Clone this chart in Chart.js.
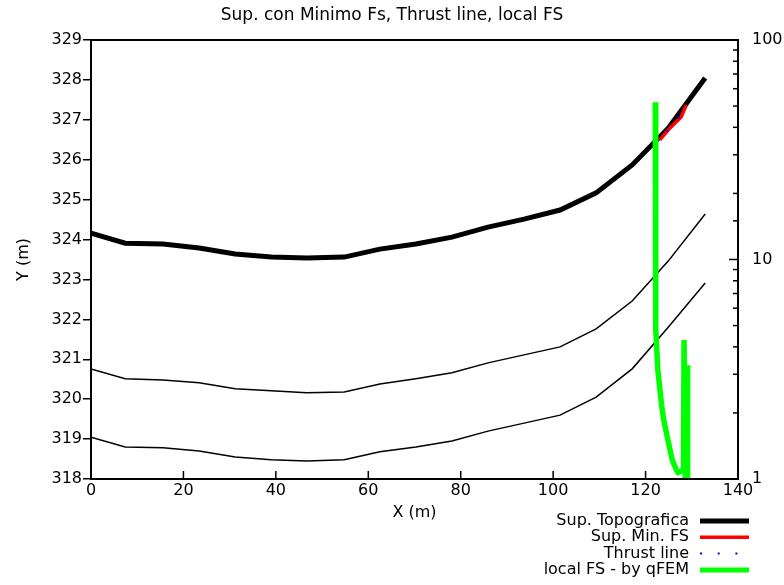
<!DOCTYPE html>
<html>
<head>
<meta charset="utf-8">
<script src="https://cdn.jsdelivr.net/npm/chart.js@4.4.1/dist/chart.umd.min.js"></script>
<style>
  html, body { margin: 0; padding: 0; background: #fff; }
  #wrap { width: 784px; height: 585px; }
</style>
</head>
<body>
<div id="wrap"><canvas id="slope" width="784" height="585"></canvas></div>
<script>
// section stations (m)
const stationX = [0, 7.4, 15.6, 23.4, 31.2, 39, 46.7, 54.8, 62.5, 70.3, 78.1, 85.9, 93.7, 101.5, 109.3, 117.1, 124.9, 132.9];
const topoY   = [324.16, 323.91, 323.89, 323.79, 323.64, 323.56, 323.54, 323.56, 323.76, 323.89, 324.06, 324.31, 324.51, 324.74, 325.17, 325.87, 326.79, 328.05];
const layer1Y = [320.76, 320.51, 320.48, 320.41, 320.26, 320.21, 320.16, 320.18, 320.38, 320.51, 320.66, 320.91, 321.11, 321.31, 321.76, 322.46, 323.46, 324.64];
const layer2Y = [319.05, 318.80, 318.78, 318.70, 318.55, 318.48, 318.45, 318.48, 318.68, 318.80, 318.95, 319.20, 319.40, 319.60, 320.05, 320.76, 321.80, 322.91];

// minimum FS surface
const minFsX = [123.1, 124.9, 127.7, 128.8];
const minFsY = [326.50, 326.75, 327.07, 327.37];

// thrust line
const thrustX = [122.05, 124.85, 127.3, 128.3];
const thrustY = [326.37, 326.73, 327.06, 327.22];

// local FS (right axis, log)
const localX  = [122.1, 122.2, 122.66, 123.46, 123.93, 124.82, 125.77, 126.66, 127.03, 128.2, 128.33, 128.6, 129.0, 129.1];
const localFS = [52, 4.8, 3.14, 2.17, 1.86, 1.51, 1.22, 1.10, 1.07, 1.1, 4.3, 0.9, 3.3, 0.9];

const xTicks = [0, 20, 40, 60, 80, 100, 120, 140];
const yLabels = ["Y (m)"];
const FONT = "DejaVu Sans";

const pts = (xs, ys) => xs.map((x, i) => ({ x, y: ys[i] }));

const framePlugin = {
  id: "frame",
  afterDatasetsDraw(chart) {
    const { ctx, chartArea: a, scales } = chart;
    ctx.save();
    ctx.strokeStyle = "#000";
    ctx.lineWidth = 1.5;
    // x ticks pointing inward
    scales.x.ticks.forEach(t => {
      const px = scales.x.getPixelForValue(t.value);
      ctx.beginPath(); ctx.moveTo(px, a.bottom); ctx.lineTo(px, a.bottom - 8); ctx.stroke();
    });
    // log ticks on the right, inward
    scales.y2.ticks.forEach(t => {
      const py = scales.y2.getPixelForValue(t.value);
      const major = Math.abs(Math.log10(t.value) - Math.round(Math.log10(t.value))) < 1e-6;
      ctx.beginPath(); ctx.moveTo(a.right, py); ctx.lineTo(a.right - (major ? 9 : 5), py); ctx.stroke();
    });
    ctx.lineWidth = 2;
    ctx.strokeRect(a.left, a.top, a.right - a.left, a.bottom - a.top);
    ctx.restore();
  },
  afterDraw(chart) {
    const ctx = chart.ctx;
    ctx.save();
    ctx.font = "16px '" + FONT + "'";
    ctx.textAlign = "right";
    ctx.textBaseline = "middle";
    chart.data.datasets.filter(d => d.inLegend).forEach((d, i) => {
      const y = 521 + i * 16.3;
      ctx.fillStyle = "#000";
      ctx.fillText(d.label, 689, y);
      ctx.strokeStyle = d.borderColor;
      ctx.lineWidth = d.legendWidth;
      ctx.setLineDash(d.borderDash || []);
      ctx.beginPath(); ctx.moveTo(700, y); ctx.lineTo(749, y); ctx.stroke();
    });
    ctx.restore();
  }
};

new Chart(document.getElementById("slope"), {
  type: "line",
  data: {
    datasets: [
      { label: "Sup. Topografica", inLegend: true, legendWidth: 5, data: pts(stationX, topoY),
        borderColor: "#000000", borderWidth: 5, order: 4 },
      { label: "Sup. Min. FS", inLegend: true, legendWidth: 3.5, data: pts(minFsX, minFsY),
        borderColor: "#ff0000", borderWidth: 3.5, order: 3 },
      { label: "Thrust line", inLegend: true, legendWidth: 2, data: pts(thrustX, thrustY),
        borderColor: "#0000ff", borderWidth: 2, borderDash: [2, 15.7], order: 2 },
      { label: "local FS - by qFEM", inLegend: true, legendWidth: 5, data: pts(localX, localFS),
        borderColor: "#00ff00", borderWidth: 5.5, yAxisID: "y2", order: 1 },
      { label: "layer1", data: pts(stationX, layer1Y), borderColor: "#000000", borderWidth: 1.5, order: 6 },
      { label: "layer2", data: pts(stationX, layer2Y), borderColor: "#000000", borderWidth: 1.5, order: 5 }
    ]
  },
  options: {
    responsive: false,
    animation: false,
    devicePixelRatio: 1,
    layout: { padding: 0 },
    elements: { point: { radius: 0 }, line: { tension: 0, borderCapStyle: "butt", borderJoinStyle: "miter" } },
    plugins: {
      legend: { display: false },
      tooltip: { enabled: false },
      title: {
        display: true, text: "Sup. con Minimo Fs, Thrust line, local FS", color: "#000",
        font: { family: FONT, size: 17, weight: "normal", lineHeight: 1.2 },
        padding: { top: 5, bottom: 14.6 }
      }
    },
    scales: {
      x: {
        type: "linear", min: 0, max: 140,
        afterFit: s => { s.height = 106; },
        afterBuildTicks: s => { s.ticks = xTicks.map(v => ({ value: v })); },
        border: { display: false },
        grid: { display: true, drawOnChartArea: false, drawTicks: false, color: "rgba(0,0,0,0)" },
        ticks: { color: "#000", font: { family: FONT, size: 16 }, padding: 2, maxRotation: 0 },
        title: { display: true, text: "X (m)", color: "#000", font: { family: FONT, size: 16 }, padding: { bottom: 63 } }
      },
      y: {
        type: "linear", position: "left", min: 318, max: 329,
        afterFit: s => { s.width = 91; },
        border: { display: false },
        grid: { drawOnChartArea: false, drawTicks: true, tickLength: 8, color: "#000", lineWidth: 1.5 },
        ticks: { stepSize: 1, color: "#000", font: { family: FONT, size: 16 }, padding: 1 },
        title: { display: true, text: yLabels[0], color: "#000", font: { family: FONT, size: 16 }, padding: { top: 14 } }
      },
      y2: {
        type: "logarithmic", position: "right", min: 1, max: 100,
        afterFit: s => { s.width = 46; },
        border: { display: false },
        grid: { drawOnChartArea: false, drawTicks: false, color: "rgba(0,0,0,0)" },
        ticks: {
          autoSkip: false, color: "#000", font: { family: FONT, size: 16 }, padding: 14,
          callback: v => ([1, 10, 100].includes(v) ? String(v) : "")
        }
      }
    }
  },
  plugins: [framePlugin]
});
</script>
</body>
</html>
